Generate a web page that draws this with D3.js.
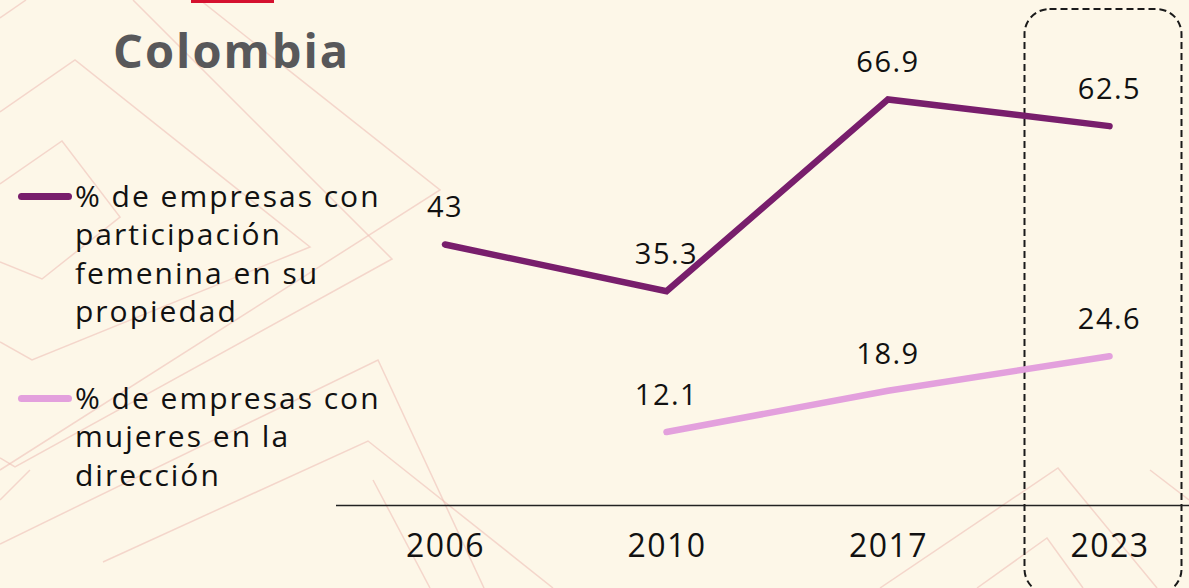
<!DOCTYPE html>
<html>
<head>
<meta charset="utf-8">
<script src="https://cdn.jsdelivr.net/npm/d3@7"></script>
<style>
  body { margin: 0; background: #fdf7e8; }
  svg { display: block; }
</style>
</head>
<body>
<div id="chart"></div>
<script>
  var width = 1189,
      height = 588;

  // data
  var years = ["2006", "2010", "2017", "2023"];
  var propiedad = [43, 35.3, 66.9, 62.5];
  var direccion = [null, 12.1, 18.9, 24.6];
  var seriesNames = [
    ["% de empresas con", "participación", "femenina en su", "propiedad"],
    ["% de empresas con", "mujeres en la", "dirección"]
  ];
  var seriesColors = ["#781e6c", "#e3a0dd"];
  var highlightYear = "2023";

  // decorative background pattern (faint lines)
  var pattern = [
    [[0,18],[26,0]],
    [[0,112],[75,60],[310,247],[32,360],[0,342]],
    [[0,184],[62,141],[120,217],[42,279],[0,262]],
    [[133,0],[392,259],[15,467],[0,458]],
    [[200,0],[440,190],[0,470]],
    [[0,544],[378,360],[484,588]],
    [[103,562],[368,441],[553,588]],
    [[0,500],[30,470]],
    [[373,480],[430,588]],
    [[880,588],[1058,468],[1157,588]],
    [[977,588],[1047,538],[1083,588]],
    [[1150,470],[1189,500]]
  ];

  var svg = d3.select("#chart").append("svg")
      .attr("width", width)
      .attr("height", height);

  svg.append("rect")
      .attr("width", width)
      .attr("height", height)
      .attr("fill", "#fdf7e8");

  svg.append("g")
    .selectAll("path")
    .data(pattern)
    .enter().append("path")
      .attr("d", d3.line())
      .attr("fill", "none")
      .attr("stroke", "#efc0b8")
      .attr("stroke-width", 1.5)
      .attr("opacity", 0.6);

  // red tab at the top
  svg.append("rect")
      .attr("x", 191)
      .attr("y", 0)
      .attr("width", 83)
      .attr("height", 3)
      .attr("fill", "#d5112f");

  svg.append("text")
      .attr("x", 113)
      .attr("y", 68)
      .attr("fill", "#58585a")
      .attr("font-family", "'Open Sans', sans-serif")
      .attr("font-weight", "bold")
      .attr("font-size", 47)
      .attr("letter-spacing", 2)
      .text("Colombia");

  var x = d3.scalePoint()
      .domain(years)
      .range([445, 1109.5]);

  var y = d3.scaleLinear()
      .domain([0, 80])
      .range([505.5, 505.5 - 80 * 6.07]);

  // highlight box round the last year
  svg.append("rect")
      .attr("x", x(highlightYear) - 85)
      .attr("y", 9)
      .attr("width", 157)
      .attr("height", 585)
      .attr("rx", 25)
      .attr("fill", "none")
      .attr("stroke", "#1a1a1a")
      .attr("stroke-width", 2)
      .attr("stroke-dasharray", "7,4");

  // baseline + year labels
  svg.append("line")
      .attr("x1", 336)
      .attr("x2", width)
      .attr("y1", y(0))
      .attr("y2", y(0))
      .attr("stroke", "#222")
      .attr("stroke-width", 1.3);

  var axis = svg.append("g")
      .attr("transform", "translate(0," + y(0) + ")")
      .call(d3.axisBottom(x).tickSize(0));
  axis.select(".domain").remove();
  axis.selectAll("text")
      .attr("y", 51)
      .attr("dy", 0)
      .attr("fill", "#111")
      .attr("font-family", "'Open Sans', sans-serif")
      .attr("font-size", 32)
      .attr("letter-spacing", 1.5);

  var line = d3.line()
      .defined(function(d) { return d != null; })
      .x(function(d, i) { return x(years[i]); })
      .y(function(d) { return y(d); });

  [propiedad, direccion].forEach(function(values, k) {
    svg.append("path")
        .attr("d", line(values))
        .attr("fill", "none")
        .attr("stroke", seriesColors[k])
        .attr("stroke-width", 6.5)
        .attr("stroke-linecap", "round")
        .attr("stroke-linejoin", "miter");

    svg.append("g")
      .selectAll("text")
      .data(values.map(function(v, i) { return { v: v, year: years[i] }; })
        .filter(function(d) { return d.v != null; }))
      .enter().append("text")
        .attr("x", function(d) { return x(d.year); })
        .attr("y", function(d) { return y(d.v) - 27; })
        .attr("text-anchor", "middle")
        .attr("fill", "#111")
        .attr("font-family", "'Open Sans', sans-serif")
        .attr("font-size", 29)
        .attr("letter-spacing", 1.5)
        .text(function(d) { return d.v; });
  });

  // legend
  var legendTop = [206.5, 408.5];
  seriesNames.forEach(function(lines, k) {
    svg.append("line")
        .attr("x1", 21.5)
        .attr("x2", 68.5)
        .attr("y1", legendTop[k] - 10)
        .attr("y2", legendTop[k] - 10)
        .attr("stroke", seriesColors[k])
        .attr("stroke-width", 7)
        .attr("stroke-linecap", "round");

    var t = svg.append("text")
        .attr("x", 75)
        .attr("y", legendTop[k])
        .attr("fill", "#111")
        .attr("font-family", "'Open Sans', sans-serif")
        .attr("font-size", 30)
        .attr("letter-spacing", 2);
    t.selectAll("tspan")
      .data(lines)
      .enter().append("tspan")
        .attr("x", 75)
        .attr("dy", function(d, i) { return i ? 38.5 : 0; })
        .text(function(d) { return d; });
  });
</script>
</body>
</html>
